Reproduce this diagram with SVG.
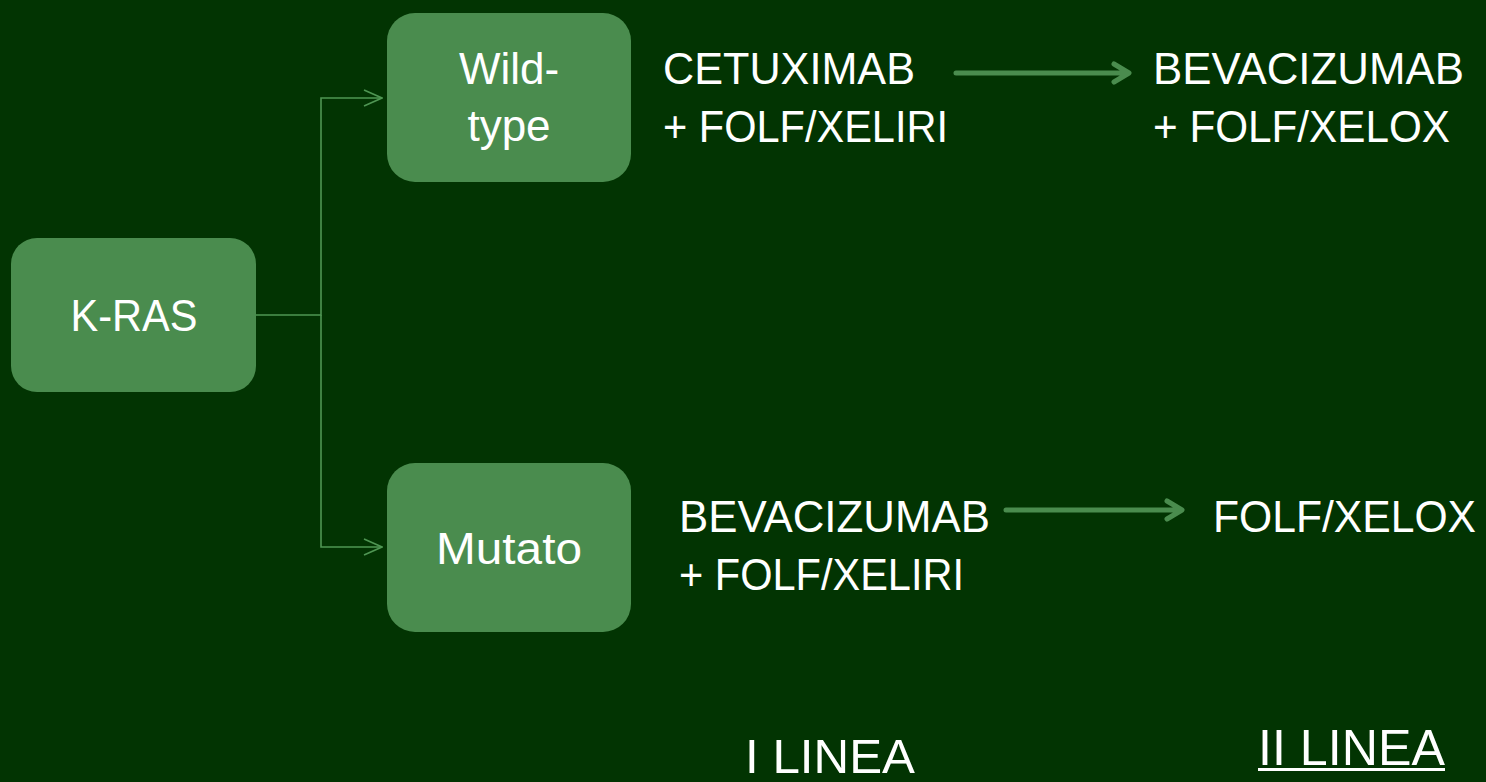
<svg xmlns="http://www.w3.org/2000/svg" width="1486" height="782" viewBox="0 0 1486 782">
  <style>
    .box { fill: #4a8c4e; }
    .t { font-family: "Liberation Sans", Arial, sans-serif; font-size: 44px; fill: #ffffff; }
    .c { text-anchor: middle; }
    .head { font-size: 50px; }
    .low { font-size: 48px; }
    .link { fill: none; stroke: #4f9653; stroke-width: 1.6; }
    .flow { fill: none; stroke: #4a8c4e; stroke-width: 5; stroke-linecap: round; stroke-linejoin: round; }
  </style>
  <defs>
    <marker id="open" viewBox="0 0 20 20" refX="19" refY="10" markerWidth="20" markerHeight="20" markerUnits="userSpaceOnUse" orient="auto">
      <path d="M1,2 L19,10 L1,18" fill="none" stroke="#4f9653" stroke-width="1.6"/>
    </marker>
  </defs>
  <rect width="1486" height="782" fill="#023402"/>

  <g id="connectors">
    <path class="link" d="M256,315 H321 V98 H382" marker-end="url(#open)"/>
    <path class="link" d="M321,315 V547 H382" marker-end="url(#open)"/>
    <path class="flow" d="M956,73 H1128 M1114,64 L1129,73 L1114,82"/>
    <path class="flow" d="M1006,510 H1181 M1167,501 L1182,510 L1167,519"/>
  </g>

  <g id="kras">
    <rect class="box" x="11" y="238" width="245" height="154" rx="26"/>
    <text class="t c" x="134" y="331" textLength="127" lengthAdjust="spacingAndGlyphs">K-RAS</text>
  </g>

  <g id="wildtype">
    <rect class="box" x="387" y="13" width="244" height="169" rx="28"/>
    <text class="t c" x="509" y="84">Wild-</text>
    <text class="t c" x="509" y="141">type</text>
  </g>

  <g id="mutato">
    <rect class="box" x="387" y="463" width="244" height="169" rx="28"/>
    <text class="t c" x="509" y="564" textLength="146" lengthAdjust="spacingAndGlyphs">Mutato</text>
  </g>

  <g id="wt-first">
    <text class="t" x="663" y="84" textLength="252" lengthAdjust="spacingAndGlyphs">CETUXIMAB</text>
    <text class="t" x="663" y="142" textLength="285" lengthAdjust="spacingAndGlyphs">+ FOLF/XELIRI</text>
  </g>

  <g id="wt-second">
    <text class="t" x="1153" y="84" textLength="311" lengthAdjust="spacingAndGlyphs">BEVACIZUMAB</text>
    <text class="t" x="1153" y="142" textLength="297" lengthAdjust="spacingAndGlyphs">+ FOLF/XELOX</text>
  </g>

  <g id="mut-first">
    <text class="t" x="679" y="532" textLength="311" lengthAdjust="spacingAndGlyphs">BEVACIZUMAB</text>
    <text class="t" x="679" y="590" textLength="285" lengthAdjust="spacingAndGlyphs">+ FOLF/XELIRI</text>
  </g>

  <g id="mut-second">
    <text class="t" x="1213" y="532" textLength="263" lengthAdjust="spacingAndGlyphs">FOLF/XELOX</text>
  </g>

  <g id="headers">
    <text class="t low" x="745" y="773" textLength="170" lengthAdjust="spacingAndGlyphs">I LINEA</text>
    <text class="t head" x="1258" y="765" textLength="187" lengthAdjust="spacingAndGlyphs">II LINEA</text>
    <rect x="1258" y="768" width="187" height="3" fill="#ffffff"/>
  </g>
</svg>
